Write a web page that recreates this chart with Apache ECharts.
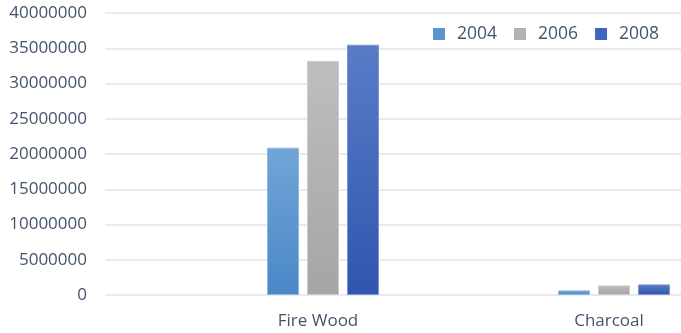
<!DOCTYPE html>
<html>
<head>
<meta charset="utf-8">
<script src="https://cdn.jsdelivr.net/npm/echarts@6/dist/echarts.min.js"></script>
<style>
  html, body { margin: 0; padding: 0; background: #ffffff; }
  #chart { width: 681px; height: 333px; }
</style>
</head>
<body>
<div id="chart"></div>
<script>
// Fuel consumption by type and year
const categories = ['Fire Wood', 'Charcoal'];
const years = ['2004', '2006', '2008'];
const values2004 = [20900000, 650000];
const values2006 = [33200000, 1350000];
const values2008 = [35500000, 1500000];
const yMin = 0;
const yMax = 40000000;
const yStep = 5000000;

const textColor = '#44546a';
const fontFamily = '"Open Sans", "Noto Sans", sans-serif';

function grad(top, bottom) {
  return new echarts.graphic.LinearGradient(0, 0, 0, 1, [
    { offset: 0, color: top },
    { offset: 1, color: bottom }
  ]);
}

const palette = [
  { fill: grad('#72a5d8', '#4a87c7'), border: '#8fb9e2', legend: '#5b95d0' },
  { fill: grad('#bebebe', '#a5a5a5'), border: '#cccccc', legend: '#b3b3b3' },
  { fill: grad('#5a7cc7', '#2f55ad'), border: '#7a96d4', legend: '#4167bb' }
];
const seriesValues = [values2004, values2006, values2008];

const chart = echarts.init(document.getElementById('chart'), null, { renderer: 'canvas' });

chart.setOption({
  backgroundColor: '#ffffff',
  animation: false,
  textStyle: { fontFamily: fontFamily },
  legend: {
    data: years.map((y, i) => ({ name: y, itemStyle: { color: palette[i].legend, borderWidth: 0 } })),
    left: 433,
    top: 25,
    padding: 0,
    icon: 'rect',
    itemWidth: 12,
    itemHeight: 12,
    itemGap: 17,
    textStyle: { color: textColor, fontSize: 17.5, fontFamily: fontFamily, padding: [0, 0, 0, 7] }
  },
  grid: [
    { left: 105, right: 0, top: 13, bottom: 38, outerBoundsMode: 'none' },
    { left: 177.5, width: 582, top: 13, bottom: 38, outerBoundsMode: 'none' }
  ],
  xAxis: [
    { type: 'category', gridIndex: 0, data: [''], show: false },
    {
      type: 'category',
      gridIndex: 1,
      data: categories,
      axisLine: { show: false },
      axisTick: { show: false },
      axisLabel: {
        color: textColor,
        fontSize: 17,
        fontFamily: fontFamily,
        margin: 18,
        padding: [0, 10, 0, 0]
      }
    }
  ],
  yAxis: [
    {
      type: 'value',
      gridIndex: 0,
      min: yMin,
      max: yMax,
      interval: yStep,
      axisLine: { show: false },
      axisTick: { show: false },
      axisLabel: {
        color: textColor,
        fontSize: 17,
        fontFamily: fontFamily,
        margin: 18,
        formatter: (v) => String(v)
      },
      splitLine: { lineStyle: { color: '#e2e3e8', width: 1.5 } }
    },
    {
      type: 'value',
      gridIndex: 1,
      min: yMin,
      max: yMax,
      interval: yStep,
      show: false,
      splitLine: { show: false }
    }
  ],
  series: years.map((y, i) => ({
    name: y,
    type: 'bar',
    xAxisIndex: 1,
    yAxisIndex: 1,
    data: seriesValues[i],
    barWidth: 32,
    barGap: '25%',
    itemStyle: {
      color: palette[i].fill,
      borderColor: palette[i].border,
      borderWidth: 1
    }
  }))
});
</script>
</body>
</html>
